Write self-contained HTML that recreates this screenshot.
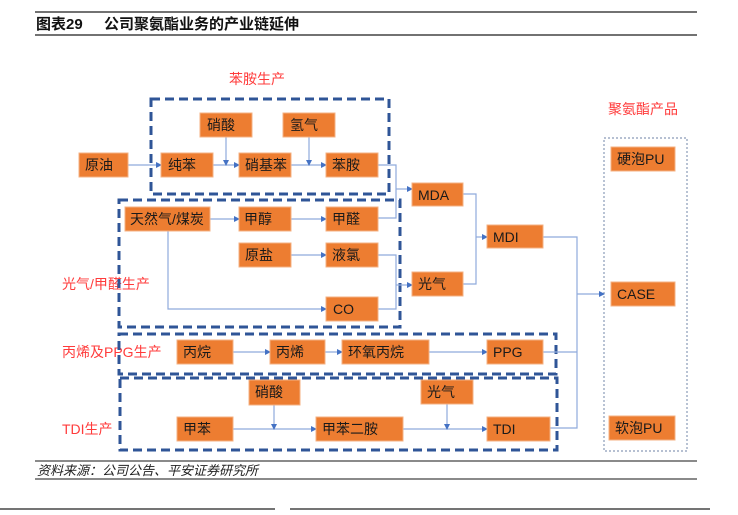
<!DOCTYPE html>
<html><head><meta charset="utf-8"><style>
html,body{margin:0;padding:0;background:#fff;}
svg{display:block;font-family:"Liberation Sans","Noto Sans CJK SC",sans-serif;}
.b{fill:#ed7d31;stroke:#f4b183;stroke-width:1;}
.t{font-size:14px;fill:#1a1a1a;}
.r{font-size:14px;fill:#ff3b3b;}
.c{stroke:#8faadc;stroke-width:1.2;fill:none;}
.d{stroke:#2f5597;stroke-width:3;stroke-dasharray:9,5;fill:none;}
</style></head><body>
<svg width="738" height="515" viewBox="0 0 738 515">
<defs><marker id="a" markerWidth="6" markerHeight="6" refX="5" refY="3" orient="auto" markerUnits="userSpaceOnUse"><path d="M0,0 L6,3 L0,6 z" fill="#4472c4"/></marker></defs>
<line x1="35" y1="12" x2="697" y2="12" stroke="#444" stroke-width="1.5"/>
<text x="36" y="29" font-size="15" font-weight="bold" fill="#111">图表29</text>
<text x="104" y="29" font-size="15" font-weight="bold" fill="#111">公司聚氨酯业务的产业链延伸</text>
<line x1="35" y1="35" x2="697" y2="35" stroke="#444" stroke-width="1.5"/>

<text class="r" x="257" y="84" text-anchor="middle">苯胺生产</text>
<text class="r" x="643" y="114" text-anchor="middle">聚氨酯产品</text>
<text class="r" x="62" y="289">光气/甲醛生产</text>
<text class="r" x="62" y="357">丙烯及PPG生产</text>
<text class="r" x="62" y="434">TDI生产</text>

<rect class="d" x="151" y="99" width="238" height="95"/>
<rect class="d" x="119" y="200" width="281" height="127"/>
<rect class="d" x="119" y="334" width="437" height="40"/>
<rect class="d" x="120" y="378" width="437" height="72"/>
<rect x="604" y="138" width="83" height="313" fill="none" stroke="#8a9bb8" stroke-width="1.2" stroke-dasharray="2,2"/>

<!-- connectors -->
<path class="c" d="M128 165 H161" marker-end="url(#a)"/>
<path class="c" d="M213 165 H239" marker-end="url(#a)"/>
<path class="c" d="M226 137 V165" marker-end="url(#a)"/>
<path class="c" d="M291 165 H326" marker-end="url(#a)"/>
<path class="c" d="M309 137 V165" marker-end="url(#a)"/>
<path class="c" d="M378 165 H396 V218 H378"/>
<path class="c" d="M396 189 H412" marker-end="url(#a)"/>
<path class="c" d="M210 219 H239" marker-end="url(#a)"/>
<path class="c" d="M291 219 H326" marker-end="url(#a)"/>
<path class="c" d="M291 255 H326" marker-end="url(#a)"/>
<path class="c" d="M168 231 V309 H326" marker-end="url(#a)"/>
<path class="c" d="M378 255 H396 V309 H378"/>
<path class="c" d="M396 285 H412" marker-end="url(#a)"/>
<path class="c" d="M463 194 H476 V284 H463"/>
<path class="c" d="M476 237 H487" marker-end="url(#a)"/>
<path class="c" d="M543 237 H577 V428 H550"/>
<path class="c" d="M577 294 H604" marker-end="url(#a)"/>
<path class="c" d="M543 352 H577"/>
<path class="c" d="M233 352 H270" marker-end="url(#a)"/>
<path class="c" d="M325 352 H342" marker-end="url(#a)"/>
<path class="c" d="M429 352 H487" marker-end="url(#a)"/>
<path class="c" d="M233 429 H316" marker-end="url(#a)"/>
<path class="c" d="M274 405 V429" marker-end="url(#a)"/>
<path class="c" d="M403 429 H487" marker-end="url(#a)"/>
<path class="c" d="M447 404 V429" marker-end="url(#a)"/>

<!-- boxes -->
<rect class="b" x="200" y="113" width="52" height="24"/><text class="t" x="207" y="130">硝酸</text>
<rect class="b" x="283" y="113" width="52" height="24"/><text class="t" x="290" y="130">氢气</text>
<rect class="b" x="79" y="153" width="49" height="24"/><text class="t" x="85" y="170">原油</text>
<rect class="b" x="161" y="153" width="52" height="24"/><text class="t" x="168" y="170">纯苯</text>
<rect class="b" x="239" y="153" width="52" height="24"/><text class="t" x="245" y="170">硝基苯</text>
<rect class="b" x="326" y="153" width="52" height="24"/><text class="t" x="332" y="170">苯胺</text>
<rect class="b" x="412" y="183" width="51" height="23"/><text class="t" x="418" y="200">MDA</text>
<rect class="b" x="125" y="207" width="85" height="24"/><text class="t" x="130" y="224">天然气/煤炭</text>
<rect class="b" x="239" y="207" width="52" height="24"/><text class="t" x="244" y="224">甲醇</text>
<rect class="b" x="326" y="207" width="52" height="24"/><text class="t" x="332" y="224">甲醛</text>
<rect class="b" x="487" y="225" width="56" height="23"/><text class="t" x="493" y="242">MDI</text>
<rect class="b" x="239" y="243" width="52" height="24"/><text class="t" x="245" y="260">原盐</text>
<rect class="b" x="326" y="243" width="52" height="24"/><text class="t" x="332" y="260">液氯</text>
<rect class="b" x="412" y="272" width="51" height="24"/><text class="t" x="418" y="289">光气</text>
<rect class="b" x="326" y="297" width="52" height="24"/><text class="t" x="333" y="314">CO</text>
<rect class="b" x="177" y="340" width="56" height="24"/><text class="t" x="183" y="357">丙烷</text>
<rect class="b" x="270" y="340" width="55" height="24"/><text class="t" x="276" y="357">丙烯</text>
<rect class="b" x="342" y="340" width="87" height="24"/><text class="t" x="348" y="357">环氧丙烷</text>
<rect class="b" x="487" y="340" width="56" height="24"/><text class="t" x="493" y="357">PPG</text>
<rect class="b" x="249" y="380" width="51" height="25"/><text class="t" x="255" y="397">硝酸</text>
<rect class="b" x="421" y="380" width="52" height="24"/><text class="t" x="427" y="397">光气</text>
<rect class="b" x="177" y="417" width="56" height="24"/><text class="t" x="183" y="434">甲苯</text>
<rect class="b" x="316" y="417" width="87" height="24"/><text class="t" x="322" y="434">甲苯二胺</text>
<rect class="b" x="487" y="417" width="63" height="24"/><text class="t" x="493" y="434">TDI</text>
<rect class="b" x="611" y="147" width="64" height="24"/><text class="t" x="617" y="164">硬泡PU</text>
<rect class="b" x="611" y="282" width="64" height="24"/><text class="t" x="617" y="299">CASE</text>
<rect class="b" x="609" y="416" width="66" height="24"/><text class="t" x="615" y="433">软泡PU</text>

<line x1="35" y1="461" x2="697" y2="461" stroke="#444" stroke-width="1.2"/>
<text x="37" y="475" font-size="13" font-style="italic" fill="#222">资料来源：公司公告、平安证券研究所</text>
<line x1="35" y1="479" x2="697" y2="479" stroke="#444" stroke-width="1.2"/>
<line x1="0" y1="509" x2="275" y2="509" stroke="#222" stroke-width="1.2"/>
<line x1="290" y1="509" x2="710" y2="509" stroke="#222" stroke-width="1.2"/>
</svg>
</body></html>
